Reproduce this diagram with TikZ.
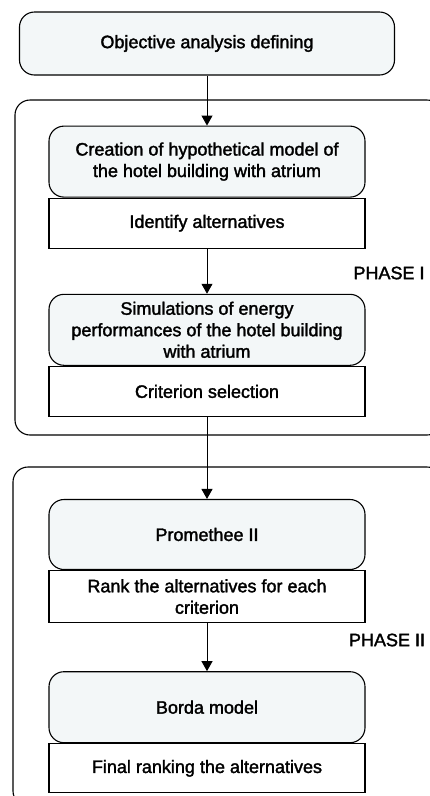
\documentclass[tikz,border=0pt]{standalone}
\usepackage{fontspec}
\setmainfont{Liberation Sans}[FakeBold=1.8]
\usepackage{xcolor}
\usepackage{tikz}
\usetikzlibrary{arrows.meta, positioning}

\definecolor{boxfill}{HTML}{F3F7F8}

\begin{document}
\begin{tikzpicture}[
    x=1pt, y=1pt,
    node distance=50pt,
    roundblock/.style={rectangle, draw, rounded corners=15pt, fill=boxfill,
                       line width=1.1pt, minimum width=316pt, minimum height=71pt,
                       align=center, inner sep=0pt, font=\fontsize{18}{21.5}\selectfont},
    plainblock/.style={rectangle, draw, fill=white, line width=1.1pt,
                       minimum width=316pt, minimum height=50pt, align=center,
                       inner sep=0pt, font=\fontsize{18}{21.5}\selectfont},
    phasebox/.style={draw, rounded corners=15pt, line width=1.1pt},
    phaselabel/.style={font=\fontsize{18}{21.5}\selectfont},
    arrow/.style={-{Triangle[length=10pt, width=11pt]}, line width=1pt}
]
  \useasboundingbox (0,0) rectangle (430,-796);
  \clip (0,0) rectangle (430,-796);

  % phase frames
  \draw[phasebox] (15,-100) rectangle (442,-435);
  \draw[phasebox] (13,-467) rectangle (442,-806);

  \node[roundblock, minimum width=375pt, minimum height=63pt] (obj)
    at (207,-43.5) {Objective analysis defining};

  \node[roundblock, below=50pt of obj] (create)
    {Creation of hypothetical model of\\ the hotel building with atrium};
  \node[plainblock, below=0pt of create] (ident) {Identify alternatives};

  \node[roundblock, below=45pt of ident] (sim)
    {Simulations of energy\\performances of the hotel building\\with atrium};
  \node[plainblock, below=0pt of sim] (crit) {Criterion selection};

  \node[roundblock, minimum height=70pt, below=82pt of crit] (prom) {Promethee II};
  \node[plainblock, minimum height=52pt, below=0pt of prom] (rank)
    {Rank the alternatives for each\\criterion};

  \node[roundblock, below=48pt of rank] (borda) {Borda model};
  \node[plainblock, minimum height=49pt, below=0pt of borda] (final)
    {Final ranking the alternatives};

  \node[phaselabel] (ph1) at (389,-273) {PHASE I};
  \node[phaselabel] (ph2) at (387,-640) {PHASE II};

  \draw[arrow] (obj) -- (create);
  \draw[arrow] (ident) -- (sim);
  \draw[arrow] (crit) -- (prom);
  \draw[arrow] (rank) -- (borda);
\end{tikzpicture}
\end{document}
